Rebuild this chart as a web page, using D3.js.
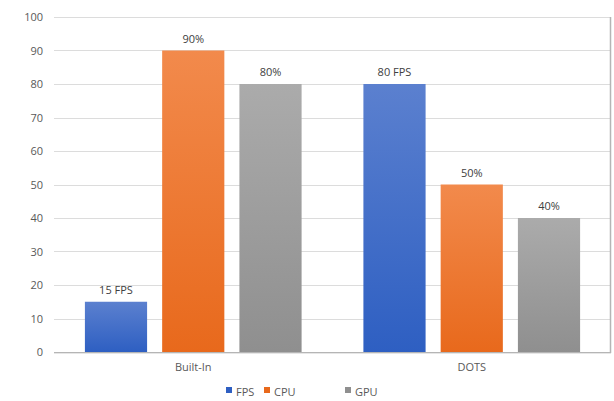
<!DOCTYPE html>
<html>
<head>
<meta charset="utf-8">
<title>FPS / CPU / GPU</title>
<script src="https://d3js.org/d3.v7.min.js"></script>
<style>
  body { margin: 0; background: #fff; }
  text { font-family: "Open Sans", "Noto Sans", sans-serif; }
</style>
</head>
<body>
<div id="chart"></div>
<script>
// data
const categories = ["Built-In", "DOTS"];
const seriesNames = ["FPS", "CPU", "GPU"];
const fpsValues = [15, 80];
const cpuValues = [90, 50];
const gpuValues = [80, 40];
const fpsLabels = ["15 FPS", "80 FPS"];
const cpuLabels = ["90%", "50%"];
const gpuLabels = ["80%", "40%"];
const yTicks = [0, 10, 20, 30, 40, 50, 60, 70, 80, 90, 100];

const series = [
  { name: "FPS", values: fpsValues, labels: fpsLabels, top: "#5b80cf", bottom: "#2e5fc2" },
  { name: "CPU", values: cpuValues, labels: cpuLabels, top: "#f28a4c", bottom: "#e8691c" },
  { name: "GPU", values: gpuValues, labels: gpuLabels, top: "#ababab", bottom: "#8f8f8f" }
];

const W = 614, H = 401;
const margin = { left: 54, right: 3, top: 17, bottom: 49 };

const svg = d3.select("#chart").append("svg")
  .attr("width", W).attr("height", H);

const defs = svg.append("defs");
series.forEach((s, i) => {
  const g = defs.append("linearGradient")
    .attr("id", "grad" + i).attr("x1", 0).attr("y1", 0).attr("x2", 0).attr("y2", 1);
  g.append("stop").attr("offset", "0%").attr("stop-color", s.top);
  g.append("stop").attr("offset", "100%").attr("stop-color", s.bottom);
});

const x = d3.scaleBand().domain(categories)
  .range([margin.left, W - margin.right]).paddingInner(0).paddingOuter(0);
const xs = d3.scaleBand().domain(seriesNames)
  .range([0, x.bandwidth()]).paddingInner(0.195).paddingOuter(0.4);
const y = d3.scaleLinear().domain([0, 100]).range([H - margin.bottom, margin.top]);

// gridlines
svg.append("g").selectAll("line").data(yTicks.slice(1)).join("line")
  .attr("x1", margin.left).attr("x2", W - margin.right)
  .attr("y1", d => Math.round(y(d)) + 0.5).attr("y2", d => Math.round(y(d)) + 0.5)
  .attr("stroke", "#dcdcdc").attr("stroke-width", 1);

// right border line
svg.append("line")
  .attr("x1", W - margin.right - 0.5).attr("x2", W - margin.right - 0.5)
  .attr("y1", y(100)).attr("y2", y(0) + 1)
  .attr("stroke", "#b5b5b5").attr("stroke-width", 1.5);

// y labels
const yAxis = d3.axisLeft(y).tickValues(yTicks).tickSize(0).tickPadding(11);
const ya = svg.append("g").attr("transform", `translate(${margin.left},0)`).call(yAxis);
ya.select(".domain").remove();
ya.selectAll("text").attr("fill", "#595959").style("font-size", "11px")
  .style("font-family", "'Open Sans', sans-serif");

// bars
const groups = svg.append("g").selectAll("g").data(series).join("g")
  .attr("fill", (d, i) => `url(#grad${i})`);
groups.selectAll("rect").data(s => s.values.map((v, j) => ({ s: s.name, cat: categories[j], v })))
  .join("rect")
  .attr("x", d => x(d.cat) + xs(d.s))
  .attr("width", xs.bandwidth())
  .attr("y", d => y(d.v))
  .attr("height", d => y(0) - y(d.v));

// value labels
svg.append("g").selectAll("g").data(series).join("g")
  .selectAll("text").data(s => s.values.map((v, j) => ({ s: s.name, cat: categories[j], v, label: s.labels[j] })))
  .join("text")
  .attr("x", d => x(d.cat) + xs(d.s) + xs.bandwidth() / 2)
  .attr("y", d => y(d.v) - 8)
  .attr("text-anchor", "middle")
  .attr("fill", "#404040")
  .style("font-size", "11px")
  .text(d => d.label);

// x axis line
svg.append("line")
  .attr("x1", margin.left).attr("x2", W - margin.right)
  .attr("y1", y(0) + 1).attr("y2", y(0) + 1)
  .attr("stroke", "#e6e6e6").attr("stroke-width", 2);
svg.append("line")
  .attr("x1", margin.left).attr("x2", W - margin.right)
  .attr("y1", y(0) + 0.5).attr("y2", y(0) + 0.5)
  .attr("stroke", "#b5b5b5").attr("stroke-width", 1);

// category labels
const xAxis = d3.axisBottom(x).tickSize(0).tickPadding(11);
const xa = svg.append("g").attr("transform", `translate(0,${y(0)})`).call(xAxis);
xa.select(".domain").remove();
xa.selectAll("text").attr("fill", "#595959").style("font-size", "11px")
  .style("font-family", "'Open Sans', sans-serif");

// legend
const legendX = [226, 264, 345];
const legend = svg.append("g").selectAll("g").data(series).join("g")
  .attr("transform", (d, i) => `translate(${legendX[i]},392)`);
legend.append("rect").attr("x", 0).attr("y", -5).attr("width", 6).attr("height", 6)
  .attr("fill", d => d.bottom);
legend.append("text").attr("x", 10).attr("y", 0).attr("dy", "0.35em")
  .attr("fill", "#595959").style("font-size", "11px").text(d => d.name);
</script>
</body>
</html>
